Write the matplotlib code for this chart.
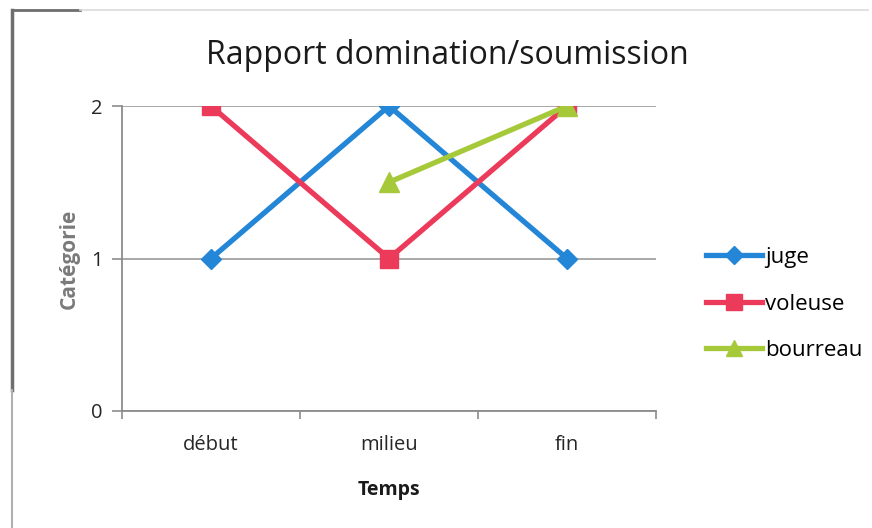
import numpy as np
import matplotlib.pyplot as plt
from matplotlib.lines import Line2D

plt.rcParams['font.family'] = ['Open Sans', 'DejaVu Sans']

# donnees
temps = ['début', 'milieu', 'fin']
juge = [1, 2, 1]
voleuse = [2, 1, 2]
bourreau = [np.nan, 1.5, 2]

c_juge = '#2486d6'
c_vol = '#ec3a5a'
c_bour = '#a6c93a'

fig = plt.figure(figsize=(8.72, 5.28), dpi=100)
ax = fig.add_axes([122/872, 1 - 411/528, (656 - 122)/872, (411 - 106)/528])

x = np.arange(len(temps))
ax.plot(x, juge, '-D', color=c_juge, lw=3.8, ms=10, label='juge')
ax.plot(x, voleuse, '-s', color=c_vol, lw=3.8, ms=13, label='voleuse')
ax.plot(x, bourreau, '-^', color=c_bour, lw=3.8, ms=14, label='bourreau')

ax.set_xlim(-0.5, 2.5)
ax.set_ylim(0, 2)
ax.set_yticks([0, 1, 2])
ax.set_xticks(x)
ax.set_xticklabels(temps)
ax.set_xticks([-0.5, 0.5, 1.5, 2.5], minor=True)
ax.tick_params(axis='x', which='major', length=0, pad=17, labelsize=14.5)
ax.tick_params(axis='x', which='minor', length=6, color='#8c8c8c', width=1.2, direction='out')
ax.tick_params(axis='y', length=7, color='#8c8c8c', width=1.2, pad=7, labelsize=14.5)
for lab in ax.get_xticklabels() + ax.get_yticklabels():
    lab.set_color('#262626')

ax.grid(axis='y', color='#9a9a9a', lw=1.2)
ax.set_axisbelow(True)
for s in ['top', 'right']:
    ax.spines[s].set_visible(False)
for s in ['left', 'bottom']:
    ax.spines[s].set_color('#8c8c8c')
    ax.spines[s].set_linewidth(1.3)

ax.set_xlabel('Temps', fontsize=14, fontweight='bold', labelpad=18, color='#1a1a1a')
ax.set_ylabel('Catégorie', fontsize=15, fontweight='bold', labelpad=8, color='#7a7a7a')
fig.text(447/872, 1 - 55/528, 'Rapport domination/soumission', fontsize=23,
         ha='center', va='center', color='#1a1a1a')

handles = [Line2D([], [], color=c_juge, marker='D', lw=3.8, ms=9),
           Line2D([], [], color=c_vol, marker='s', lw=3.8, ms=12),
           Line2D([], [], color=c_bour, marker='^', lw=3.8, ms=12)]
fig.legend(handles, ['juge', 'voleuse', 'bourreau'], loc='center left',
           bbox_to_anchor=(686/872, 1 - 304/528), frameon=False, fontsize=16,
           handlelength=2.5, handletextpad=0.15, labelspacing=1.15)

# cadre du graphique
fig.add_artist(Line2D([12/872, 12/872], [1 - 10/528, 1 - 390/528], color='#6e6e6e', lw=2.5))
fig.add_artist(Line2D([12/872, 12/872], [1 - 390/528, 0], color='#b0b0b0', lw=1.5))
fig.add_artist(Line2D([12/872, 80/872], [1 - 10/528, 1 - 10/528], color='#6e6e6e', lw=2))
fig.add_artist(Line2D([80/872, 868/872], [1 - 10/528, 1 - 10/528], color='#dcdcdc', lw=1.2))

fig.savefig('out.png', dpi=100)
